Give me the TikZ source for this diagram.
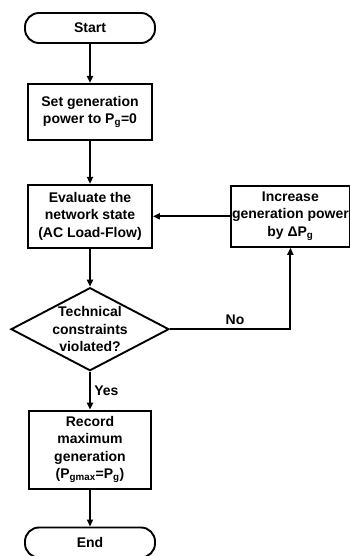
\documentclass[tikz,border=0pt]{standalone}
\usepackage{fontspec}
\setmainfont{Liberation Sans}
\usepackage{tikz}
\usetikzlibrary{shapes.geometric, arrows.meta, positioning}
\newcommand{\flowfont}{\fontsize{14}{17.5}\selectfont\bfseries}
\tikzset{
  term/.style={rectangle, rounded corners=14pt, draw, line width=1.9pt,
    font=\flowfont, minimum width=130pt, minimum height=30pt, inner sep=0pt},
  proc/.style={rectangle, draw, line width=1.9pt, font=\flowfont, align=center,
    minimum width=124pt, inner xsep=1pt, inner ysep=2pt},
  decis/.style={diamond, draw, line width=1.9pt, font=\flowfont, align=center,
    aspect=1.9, inner sep=-7pt, minimum width=158pt, minimum height=83pt},
  lbl/.style={font=\flowfont},
  arr/.style={-{Triangle[length=7pt, width=6pt]}, line width=1.9pt},
}

\begin{document}
\begin{tikzpicture}
\useasboundingbox (0,0) rectangle (350pt,-556pt);
\node[term] (start) at (90pt,-28pt) {Start};
\node[proc, below=39pt of start, minimum height=56pt] (setpg)
  {Set generation\\power to P\textsubscript{g}=0};
\node[proc, below=43pt of setpg, minimum height=63pt] (evalnet)
  {Evaluate the\\network state\\(AC Load-Flow)};
\node[proc, right=77pt of evalnet, minimum width=119pt, minimum height=61pt] (incpg)
  {Increase\\generation power\\by ΔP\textsubscript{g}};
\node[decis, below=38pt of evalnet] (check) {Technical\\constraints\\violated?};
\node[proc, below=38pt of check, minimum width=122pt, minimum height=78pt] (recmax)
  {Record\\maximum\\generation\\(P\textsubscript{gmax}=P\textsubscript{g})};
\node[term, below=37pt of recmax] (stop) {End};

\draw[arr] (start) -- (setpg);
\draw[arr] (setpg) -- (evalnet);
\draw[arr] (evalnet) -- (check);
\draw[arr] (check) -- node[lbl, right] (yes) {Yes} (recmax);
\draw[arr] (check.east) -| node[lbl, pos=0.27, above] (no) {No} (incpg.south);
\draw[arr] (incpg) -- (evalnet);
\draw[arr] (recmax) -- (stop);
\end{tikzpicture}
\end{document}
